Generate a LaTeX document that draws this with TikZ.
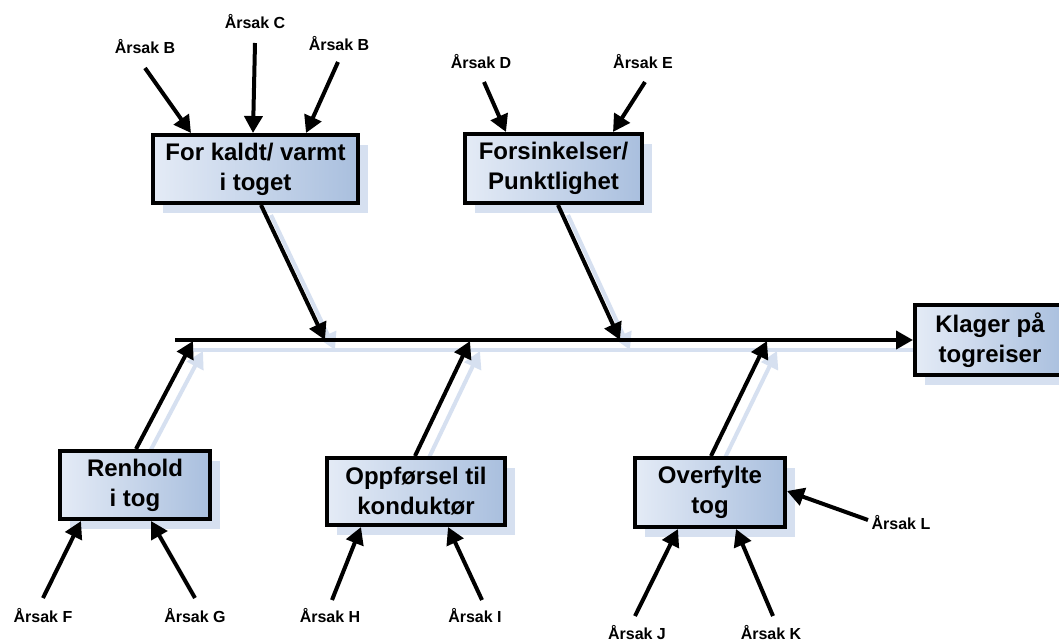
\documentclass[tikz,border=0pt]{standalone}
\usepackage{fontspec}
\setmainfont{Liberation Sans}
\usetikzlibrary{arrows.meta,shadows,calc}
\definecolor{shblue}{HTML}{D6E0F0}
\definecolor{boxl}{HTML}{E4EBF6}
\definecolor{boxr}{HTML}{A9BFDE}
\pgfdeclarelayer{bg}
\pgfsetlayers{bg,main}
\begin{document}
\begin{tikzpicture}[x=1pt,y=-1pt,
  box/.style={draw=black,line width=4pt,left color=boxl,right color=boxr,
    font=\bfseries\fontsize{24}{30}\selectfont,align=center,inner sep=0pt,
    drop shadow={shadow xshift=10pt,shadow yshift=-10pt,fill=shblue,opacity=1}},
  lbl/.style={font=\bfseries\fontsize{16}{18}\selectfont,inner sep=0pt},
  arr/.style={line width=4pt,-{Triangle[length=17pt,width=18pt]}},
  sharr/.style={arr,draw=shblue,fill=shblue,transform canvas={shift={(10pt,-10pt)}}}]
\useasboundingbox (0,0) rectangle (1059,642);

% boxes
\node[box,minimum width=205,minimum height=68] (kald) at (255.5,169) {For kaldt/ varmt\\i toget};
\node[box,minimum width=177,minimum height=69] (fors) at (553.5,168.5) {Forsinkelser/\\Punktlighet};
\node[box,minimum width=150,minimum height=70] (klag) at (990,340) {Klager på\\togreiser};
\node[box,minimum width=150,minimum height=68] (renh) at (135,485) {Renhold\\i tog};
\node[box,minimum width=178,minimum height=67] (oppf) at (416,491.5) {Oppførsel til\\konduktør};
\node[box,minimum width=150,minimum height=69] (over) at (710,492.5) {Overfylte\\tog};

% spine and branch points
\coordinate (s0) at (175,340);
\coordinate (b1) at (325,340);
\coordinate (b2) at (620,340);
\coordinate (b3) at (193,341);
\coordinate (b4) at (470,341);
\coordinate (b5) at (767,341);

% background and shadows
\begin{pgfonlayer}{bg}
\fill[white] (0,0) rectangle (1059,642);
\draw[line width=4pt,draw=shblue,transform canvas={shift={(10pt,-10pt)}}] (s0) -- (klag.west);
\draw[sharr] ($(kald.south west)+(110,0)$) -- (b1);
\draw[sharr] ($(fors.south west)+(95,0)$) -- (b2);
\draw[sharr] ($(renh.north west)+(78,0)$) -- (b3);
\draw[sharr] ($(oppf.north west)+(90,0)$) -- (b4);
\draw[sharr] ($(over.north west)+(78,0)$) -- (b5);
\end{pgfonlayer}

% spine and branches
\draw[arr] (s0) -- (klag.west);
\draw[arr] ($(kald.south west)+(110,0)$) -- (b1);
\draw[arr] ($(fors.south west)+(95,0)$) -- (b2);
\draw[arr] ($(renh.north west)+(78,0)$) -- (b3);
\draw[arr] ($(oppf.north west)+(90,0)$) -- (b4);
\draw[arr] ($(over.north west)+(78,0)$) -- (b5);

% cause labels
\node[lbl] (lB1) at (145,47) {Årsak B};
\node[lbl] (lC) at (255,22) {Årsak C};
\node[lbl] (lB2) at (339,44) {Årsak B};
\node[lbl] (lD) at (481,62) {Årsak D};
\node[lbl] (lE) at (643,62) {Årsak E};
\node[lbl] (lF) at (43,616) {Årsak F};
\node[lbl] (lG) at (195,616) {Årsak G};
\node[lbl] (lH) at (330,616) {Årsak H};
\node[lbl] (lI) at (475,616) {Årsak I};
\node[lbl] (lJ) at (637,633) {Årsak J};
\node[lbl] (lK) at (771,633) {Årsak K};
\node[lbl] (lL) at (901,523) {Årsak L};

% arrow start points
\coordinate (aB1) at (145,68);
\coordinate (aC) at (255,43);
\coordinate (aB2) at (338,62);
\coordinate (aD) at (484,82);
\coordinate (aE) at (645,82);
\coordinate (aF) at (43,598);
\coordinate (aG) at (195,598);
\coordinate (aH) at (332,600);
\coordinate (aI) at (482,600);
\coordinate (aJ) at (635,616);
\coordinate (aK) at (773,616);
\coordinate (aL) at (868,520);

% cause arrows
\draw[arr] (aB1) -- ($(kald.north west)+(40,0)$);
\draw[arr] (aC) -- ($(kald.north west)+(102,0)$);
\draw[arr] (aB2) -- ($(kald.north west)+(155,0)$);
\draw[arr] (aD) -- ($(fors.north west)+(43,0)$);
\draw[arr] (aE) -- ($(fors.north west)+(150,0)$);
\draw[arr] (aF) -- ($(renh.south west)+(23,0)$);
\draw[arr] (aG) -- ($(renh.south west)+(93,0)$);
\draw[arr] (aH) -- ($(oppf.south west)+(36,0)$);
\draw[arr] (aI) -- ($(oppf.south west)+(123,0)$);
\draw[arr] (aJ) -- ($(over.south west)+(45,0)$);
\draw[arr] (aK) -- ($(over.south west)+(103,0)$);
\draw[arr] (aL) -- ($(over.north east)+(0,35)$);
\end{tikzpicture}
\end{document}
